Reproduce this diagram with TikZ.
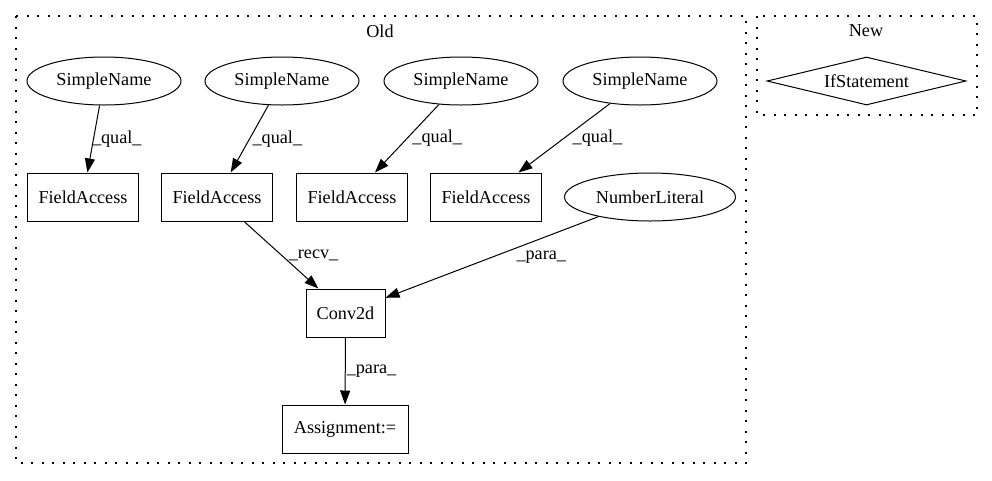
\documentclass[tikz,border=0pt]{standalone}
\usepackage{fontspec}
\setmainfont{Liberation Serif}
\usetikzlibrary{arrows.meta,shapes.geometric}

\begin{document}
\begin{tikzpicture}[x=1pt,y=-1pt,
    every node/.style={font=\fontsize{18.2}{21}\selectfont},
    ast/.style={draw,line width=1pt,inner sep=0pt,minimum height=48pt},
    oval/.style={ast,ellipse,minimum width=154pt},
    box/.style={ast,rectangle},
    cluster/.style={line width=1.2pt,dash pattern=on 2pt off 8.5pt},
    flow/.style={-{Triangle[length=14pt,width=10pt]},line width=1pt},
    lbl/.style={right,inner sep=1pt}]
    \useasboundingbox (0,0) rectangle (992,480);

    % clusters
    \draw[cluster] (16,16) rectangle (746,463);
    \draw[cluster] (757,16) rectangle (977,115);
    \node (old) at (380,31) {Old};
    \node (new) at (866,31) {New};

    \node[oval] (1) at (104,81) {SimpleName};
    \node[oval] (2) at (282,81) {SimpleName};
    \node[oval] (3) at (461,81) {SimpleName};
    \node[oval] (4) at (640,81) {SimpleName};
    \node[box,minimum width=111pt] (5) at (83,197) {FieldAccess};
    \node[box,minimum width=111pt] (6) at (217,197) {FieldAccess};
    \node[box,minimum width=111pt] (7) at (352,197) {FieldAccess};
    \node[box,minimum width=111pt] (8) at (486,197) {FieldAccess};
    \node[oval,minimum width=171pt] (9) at (650,197) {NumberLiteral};
    \node[box,minimum width=79pt] (10) at (345.5,313) {Conv2d};
    \node[box,minimum width=126pt] (11) at (345,429) {Assignment:=};
    \node[ast,diamond,minimum width=199pt] (12) at (866.5,81) {\makebox[0pt]{IfStatement}};

    \path[flow]
    (1) edge node [midway,lbl,xshift=-3pt] {\_qual\_} (5)
    (2) edge node [midway,lbl,xshift=1.5pt] {\_qual\_} (6)
    (3) edge node [midway,lbl,xshift=4pt] {\_qual\_} (7)
    (4) edge node [midway,lbl,xshift=7pt] {\_qual\_} (8)
    (6) edge node [midway,lbl,xshift=6pt] {\_recv\_} (10)
    (9) edge node [midway,lbl,xshift=23pt] {\_para\_} (10)
    (10) edge node [midway,lbl] {\_para\_} (11);
\end{tikzpicture}
\end{document}
